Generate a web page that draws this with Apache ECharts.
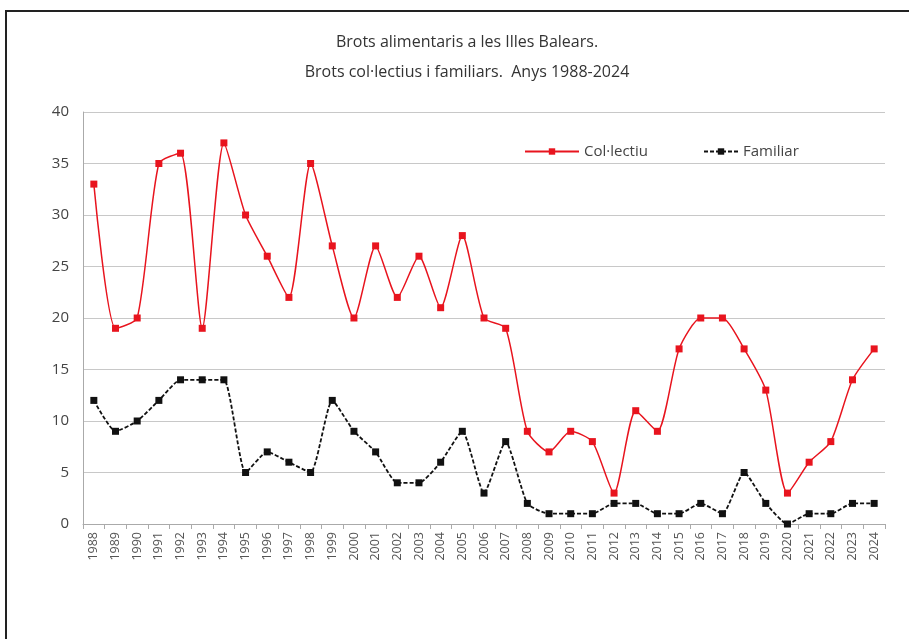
<!DOCTYPE html>
<html>
<head>
<meta charset="utf-8">
<script src="https://cdn.jsdelivr.net/npm/echarts@6/dist/echarts.min.js"></script>
<style>
html,body{margin:0;padding:0;background:#fff;}
#main{width:909px;height:639px;}
</style>
</head>
<body>
<div id="main"></div>
<script>
var years = ['1988','1989','1990','1991','1992','1993','1994','1995','1996','1997','1998','1999','2000','2001','2002','2003','2004','2005','2006','2007','2008','2009','2010','2011','2012','2013','2014','2015','2016','2017','2018','2019','2020','2021','2022','2023','2024'];
var collectiu = [33,19,20,35,36,19,37,30,26,22,35,27,20,27,22,26,21,28,20,19,9,7,9,8,3,11,9,17,20,20,17,13,3,6,8,14,17];
var familiar = [12,9,10,12,14,14,14,5,7,6,5,12,9,7,4,4,6,9,3,8,2,1,1,1,2,2,1,1,2,1,5,2,0,1,1,2,2];
var titleLines = ['Brots alimentaris a les Illes Balears.', 'Brots col·lectius i familiars.  Anys 1988-2024'];

var FONT = '"Open Sans", "Noto Sans", sans-serif';
var chart = echarts.init(document.getElementById('main'));
chart.setOption({
  backgroundColor: '#fff',
  animation: false,
  textStyle: {fontFamily: FONT},
  title: {
    text: titleLines.join('\n'),
    left: 462, top: 22, textAlign: 'center',
    textStyle: {fontFamily: FONT, fontSize: 16, fontWeight: 'normal', color: '#333', lineHeight: 30}
  },
  graphic: [{
    type: 'rect', shape: {x: 6, y: 11, width: 940, height: 700},
    style: {fill: 'none', stroke: '#222', lineWidth: 2}, silent: true
  }],
  legend: [{
    left: 519, top: 139, itemWidth: 54, itemHeight: 8,
    textStyle: {fontFamily: FONT, fontSize: 15, color: '#444'},
    data: ['Col·lectiu']
  }, {
    left: 698, top: 139, itemWidth: 34, itemHeight: 8,
    textStyle: {fontFamily: FONT, fontSize: 15, color: '#444'},
    data: ['Familiar']
  }],
  grid: {left: 83, right: 24, top: 112, bottom: 115},
  xAxis: {
    type: 'category', data: years, boundaryGap: true,
    axisLine: {lineStyle: {color: '#aaa'}},
    axisTick: {show: true, lineStyle: {color: '#aaa'}},
    axisLabel: {rotate: 90, interval: 0, fontSize: 12.5, color: '#555', fontFamily: FONT}
  },
  yAxis: {
    type: 'value', min: 0, max: 40, interval: 5,
    axisLine: {show: true, lineStyle: {color: '#aaa'}},
    axisTick: {show: false},
    splitLine: {lineStyle: {color: '#c8c8c8'}},
    axisLabel: {fontSize: 15, color: '#444', margin: 14, fontFamily: FONT}
  },
  series: [
    {
      name: 'Col·lectiu', type: 'line', data: collectiu, smooth: 0.22,
      symbol: 'rect', symbolSize: 7,
      lineStyle: {color: '#e8141e', width: 1.5},
      itemStyle: {color: '#e8141e'}
    },
    {
      name: 'Familiar', type: 'line', data: familiar, smooth: 0.18,
      symbol: 'rect', symbolSize: 7,
      lineStyle: {color: '#111', width: 1.8, type: [4, 2]},
      itemStyle: {color: '#111'}
    }
  ]
});
</script>
</body>
</html>
